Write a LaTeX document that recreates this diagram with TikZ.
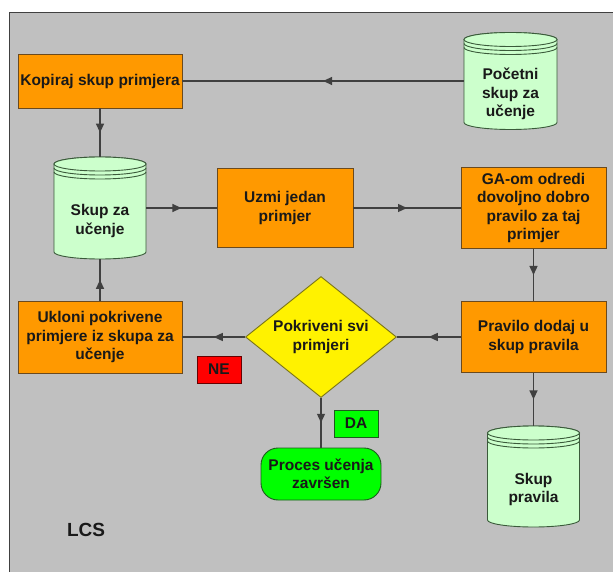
\documentclass[tikz,border=0pt]{standalone}
\usepackage{fontspec}
\setmainfont{Liberation Sans}
\usetikzlibrary{shapes.geometric,decorations.markings,arrows.meta}

\definecolor{bggrey}{HTML}{C0C0C0}
\definecolor{boxorange}{HTML}{FF9900}
\definecolor{boxedge}{HTML}{6B4A1E}
\definecolor{cylgreen}{HTML}{CCFFCC}
\definecolor{cyledge}{HTML}{3A5A3A}
\definecolor{endgreen}{HTML}{00FF00}
\definecolor{endedge}{HTML}{1E5A1E}
\definecolor{lineg}{HTML}{404040}

\tikzset{
  txt/.style={font=\bfseries\fontsize{15.5}{18.5}\selectfont, align=center, text=black!90},
  procbox/.style={txt, draw=boxedge, fill=boxorange, line width=0.9pt, inner sep=0pt},
  cylline/.style={draw=cyledge, fill=cylgreen, line width=0.9pt},
  flow/.style={draw=lineg, line width=1.3pt, postaction={decorate},
    decoration={markings, mark=at position 0.5 with {\arrow{Triangle[length=9pt,width=8pt]}}}},
}

% cylinder: name, x, y, width, height, text
\newcommand{\dbcyl}[6]{%
  \begin{scope}[shift={(#2,#3)}]
    \filldraw[cylline] (-#4/2,#5/2-7) -- (-#4/2,-#5/2+7)
      arc[start angle=180, end angle=360, x radius=#4/2, y radius=7]
      -- (#4/2,#5/2-7)
      arc[start angle=0, end angle=180, x radius=#4/2, y radius=7] -- cycle;
    \draw[cylline] (0,#5/2-7) ellipse[x radius=#4/2, y radius=7];
    \draw[cylline, fill=none] (-#4/2,#5/2-11) arc[start angle=180, end angle=360, x radius=#4/2, y radius=7];
    \draw[cylline, fill=none] (-#4/2,#5/2-15) arc[start angle=180, end angle=360, x radius=#4/2, y radius=7];
  \end{scope}
  \node[minimum width=#4pt, minimum height=#5pt, inner sep=0pt] (#1) at (#2,#3) {};
  \node[txt] at ([yshift=-13pt]#1.center) {#6};
}

\begin{document}
\begin{tikzpicture}[x=1pt, y=1pt]
  \useasboundingbox (0,0) rectangle (613,571);
  \clip (0,0) rectangle (613,571);
  \draw[draw=lineg, fill=bggrey, line width=1pt] (9,-20) rectangle (640,558);

  % nodes
  \node[procbox, minimum width=164pt, minimum height=54pt] (kopiraj) at (100,490) {Kopiraj skup primjera};
  \dbcyl{pocetni}{510.5}{490}{93}{97}{Početni\\skup za\\učenje}
  \dbcyl{skup}{100}{363}{92}{102}{Skup za\\učenje}
  \node[procbox, minimum width=136pt, minimum height=79pt] (uzmi) at (285,363) {Uzmi jedan\\primjer};
  \node[procbox, minimum width=145pt, minimum height=81pt] (ga) at (533.5,363) {GA-om odredi\\dovoljno dobro\\pravilo za taj\\primjer};
  \node[procbox, minimum width=145pt, minimum height=71pt] (pravilo) at (533.5,234) {Pravilo dodaj u\\skup pravila};
  \node[txt, shape=diamond, draw=olive!80!black, fill=yellow, line width=0.9pt, inner sep=0pt,
    aspect=1.25, minimum width=151pt, minimum height=121pt] (pokriveni) at (321,234) {Pokriveni svi\\primjeri};
  \node[procbox, minimum width=164pt, minimum height=72pt] (ukloni) at (100,234) {Ukloni pokrivene\\primjere iz skupa za\\učenje};
  \node[txt, draw=red!40!black, fill=red, minimum width=44pt, minimum height=27pt, inner sep=0pt] (ne) at (219,201.5) {NE};
  \node[txt, draw=endedge, fill=endgreen, minimum width=44pt, minimum height=27pt, inner sep=0pt] (da) at (356,147.5) {DA};
  \node[txt, draw=endedge, fill=endgreen, line width=0.9pt, rounded corners=17pt,
    minimum width=120pt, minimum height=52pt, inner sep=0pt] (proces) at (321,97) {Proces učenja\\završen};
  \dbcyl{skuppravila}{533.5}{94.5}{92}{101}{Skup\\pravila}
  \node[font=\bfseries\fontsize{19}{22}\selectfont, text=black!90] (lcs) at (86,41) {LCS};

  % connectors
  \draw[flow] (pocetni) -- (kopiraj);
  \draw[flow] (kopiraj) -- (skup);
  \draw[flow] (skup) -- (uzmi);
  \draw[flow] (uzmi) -- (ga);
  \draw[flow] (ga) -- (pravilo);
  \draw[flow] (pravilo) -- (pokriveni);
  \draw[flow] (pokriveni) -- (ukloni);
  \draw[flow] (ukloni) -- (skup);
  \draw[flow] (pokriveni) -- (proces);
  \draw[flow] (pravilo) -- (skuppravila);
\end{tikzpicture}
\end{document}
